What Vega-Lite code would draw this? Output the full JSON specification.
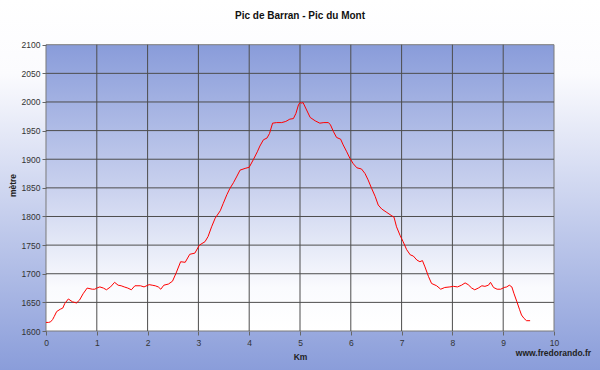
{
  "$schema": "https://vega.github.io/schema/vega-lite/v6.json",
  "width": 600,
  "height": 370,
  "autosize": {"type": "none"},
  "padding": 0,
  "background": "#ffffff",
  "title": {
    "text": "Pic de Barran - Pic du Mont",
    "font": "Liberation Sans",
    "fontSize": 10,
    "fontWeight": "bold",
    "color": "#111111",
    "anchor": "middle",
    "frame": "group",
    "offset": -21
  },
  "config": {
    "view": {"stroke": null},
    "axis": {
      "domain": false,
      "grid": false,
      "ticks": true,
      "tickColor": "#666666",
      "tickSize": 4,
      "labelFont": "Liberation Sans",
      "labelFontSize": 8.5,
      "labelColor": "#333333",
      "titleFont": "Liberation Sans",
      "titleFontSize": 8.5,
      "titleFontWeight": "bold",
      "titleColor": "#222222"
    }
  },
  "datasets": {
    "profile": [
      {"km": 0.00, "m": 1615}, {"km": 0.05, "m": 1615}, {"km": 0.09, "m": 1616}, {"km": 0.13, "m": 1620},
      {"km": 0.16, "m": 1625}, {"km": 0.21, "m": 1634}, {"km": 0.28, "m": 1638}, {"km": 0.33, "m": 1640},
      {"km": 0.37, "m": 1648}, {"km": 0.44, "m": 1656}, {"km": 0.52, "m": 1651}, {"km": 0.60, "m": 1649},
      {"km": 0.66, "m": 1654}, {"km": 0.73, "m": 1665}, {"km": 0.81, "m": 1675}, {"km": 0.91, "m": 1673},
      {"km": 0.96, "m": 1673}, {"km": 1.00, "m": 1675}, {"km": 1.06, "m": 1677}, {"km": 1.13, "m": 1675},
      {"km": 1.19, "m": 1672}, {"km": 1.27, "m": 1677}, {"km": 1.35, "m": 1685}, {"km": 1.42, "m": 1680},
      {"km": 1.48, "m": 1679}, {"km": 1.54, "m": 1677}, {"km": 1.61, "m": 1675}, {"km": 1.68, "m": 1672},
      {"km": 1.75, "m": 1679}, {"km": 1.86, "m": 1679}, {"km": 1.93, "m": 1677}, {"km": 2.03, "m": 1681},
      {"km": 2.09, "m": 1680}, {"km": 2.15, "m": 1679}, {"km": 2.21, "m": 1677}, {"km": 2.26, "m": 1673},
      {"km": 2.32, "m": 1680}, {"km": 2.41, "m": 1682}, {"km": 2.49, "m": 1687}, {"km": 2.56, "m": 1701},
      {"km": 2.65, "m": 1721}, {"km": 2.74, "m": 1720}, {"km": 2.83, "m": 1734}, {"km": 2.93, "m": 1736},
      {"km": 3.02, "m": 1750}, {"km": 3.13, "m": 1756}, {"km": 3.19, "m": 1765}, {"km": 3.26, "m": 1782},
      {"km": 3.33, "m": 1797}, {"km": 3.43, "m": 1810}, {"km": 3.49, "m": 1823}, {"km": 3.56, "m": 1838},
      {"km": 3.62, "m": 1849}, {"km": 3.69, "m": 1859}, {"km": 3.75, "m": 1869}, {"km": 3.82, "m": 1881},
      {"km": 3.92, "m": 1884}, {"km": 4.00, "m": 1886}, {"km": 4.08, "m": 1899}, {"km": 4.16, "m": 1913},
      {"km": 4.21, "m": 1923}, {"km": 4.28, "m": 1934}, {"km": 4.35, "m": 1937}, {"km": 4.40, "m": 1945},
      {"km": 4.46, "m": 1963}, {"km": 4.54, "m": 1964}, {"km": 4.64, "m": 1964}, {"km": 4.72, "m": 1966},
      {"km": 4.80, "m": 1970}, {"km": 4.87, "m": 1971}, {"km": 4.92, "m": 1980}, {"km": 4.97, "m": 1995},
      {"km": 5.00, "m": 1999}, {"km": 5.03, "m": 1998}, {"km": 5.06, "m": 1999}, {"km": 5.13, "m": 1986},
      {"km": 5.20, "m": 1973}, {"km": 5.30, "m": 1967}, {"km": 5.39, "m": 1963}, {"km": 5.47, "m": 1964},
      {"km": 5.56, "m": 1964}, {"km": 5.60, "m": 1960}, {"km": 5.66, "m": 1948}, {"km": 5.72, "m": 1938},
      {"km": 5.80, "m": 1935}, {"km": 5.85, "m": 1925}, {"km": 5.92, "m": 1913}, {"km": 5.98, "m": 1902},
      {"km": 6.05, "m": 1892}, {"km": 6.12, "m": 1885}, {"km": 6.21, "m": 1883}, {"km": 6.28, "m": 1875},
      {"km": 6.34, "m": 1864}, {"km": 6.41, "m": 1849}, {"km": 6.48, "m": 1835}, {"km": 6.54, "m": 1820},
      {"km": 6.61, "m": 1813}, {"km": 6.71, "m": 1807}, {"km": 6.81, "m": 1801}, {"km": 6.85, "m": 1799},
      {"km": 6.90, "m": 1782}, {"km": 6.97, "m": 1767}, {"km": 7.03, "m": 1756}, {"km": 7.10, "m": 1742},
      {"km": 7.17, "m": 1733}, {"km": 7.23, "m": 1731}, {"km": 7.30, "m": 1724}, {"km": 7.36, "m": 1721},
      {"km": 7.41, "m": 1723}, {"km": 7.46, "m": 1712}, {"km": 7.53, "m": 1695}, {"km": 7.59, "m": 1683},
      {"km": 7.69, "m": 1679}, {"km": 7.77, "m": 1673}, {"km": 7.85, "m": 1676}, {"km": 7.95, "m": 1677},
      {"km": 8.02, "m": 1678}, {"km": 8.10, "m": 1677}, {"km": 8.18, "m": 1680}, {"km": 8.25, "m": 1684},
      {"km": 8.31, "m": 1681}, {"km": 8.38, "m": 1675}, {"km": 8.44, "m": 1672}, {"km": 8.51, "m": 1675},
      {"km": 8.58, "m": 1679}, {"km": 8.64, "m": 1678}, {"km": 8.71, "m": 1680}, {"km": 8.75, "m": 1685},
      {"km": 8.81, "m": 1676}, {"km": 8.88, "m": 1673}, {"km": 8.95, "m": 1673}, {"km": 9.02, "m": 1676},
      {"km": 9.07, "m": 1677}, {"km": 9.12, "m": 1680}, {"km": 9.17, "m": 1677}, {"km": 9.21, "m": 1666},
      {"km": 9.27, "m": 1651}, {"km": 9.32, "m": 1638}, {"km": 9.36, "m": 1628}, {"km": 9.41, "m": 1622},
      {"km": 9.46, "m": 1618}, {"km": 9.53, "m": 1618}
    ],
    "vgrid": [
      {"km": 1}, {"km": 2}, {"km": 3}, {"km": 4}, {"km": 5}, {"km": 6}, {"km": 7}, {"km": 8}, {"km": 9}
    ],
    "hgrid": [
      {"m": 1650}, {"m": 1700}, {"m": 1750}, {"m": 1800}, {"m": 1850}, {"m": 1900}, {"m": 1950}, {"m": 2000}, {"m": 2050}
    ],
    "credit": [{"label": "www.fredorando.fr"}]
  },
  "encoding": {
    "x": {
      "type": "quantitative", "title": "Km",
      "scale": {"domain": [-0.9055, 10.9055], "nice": false, "zero": false},
      "axis": {"orient": "bottom", "offset": -39, "zindex": 5, "values": [0, 1, 2, 3, 4, 5, 6, 7, 8, 9, 10], "format": "d", "labelPadding": 3, "titlePadding": 6}
    },
    "y": {
      "type": "quantitative", "title": "mètre",
      "scale": {"domain": [1531.9, 2178.1], "nice": false, "zero": false},
      "axis": {"orient": "left", "offset": -46, "zindex": 5, "values": [1600, 1650, 1700, 1750, 1800, 1850, 1900, 1950, 2000, 2050, 2100], "format": "d", "labelPadding": 2, "titlePadding": 4}
    }
  },
  "layer": [
    {
      "data": {"values": [{}]},
      "mark": {
        "type": "rect",
        "color": {
          "gradient": "linear", "x1": 0, "y1": 0, "x2": 0, "y2": 1,
          "stops": [
            {"offset": 0, "color": "#ffffff"},
            {"offset": 0.2, "color": "#fbfbfe"},
            {"offset": 1, "color": "#8a9dda"}
          ]
        }
      },
      "encoding": {"x": null, "y": null}
    },
    {
      "data": {"values": [{}]},
      "mark": {
        "type": "rect",
        "stroke": "#7a7a7a",
        "strokeWidth": 1,
        "color": {
          "gradient": "linear", "x1": 0, "y1": 0, "x2": 0, "y2": 1,
          "stops": [
            {"offset": 0, "color": "#899cda"},
            {"offset": 0.5, "color": "#c9d1ee"},
            {"offset": 0.85, "color": "#fafbfe"},
            {"offset": 1, "color": "#ffffff"}
          ]
        }
      },
      "encoding": {
        "x": {"datum": 0},
        "x2": {"datum": 10},
        "y": {"datum": 1600},
        "y2": {"datum": 2100}
      }
    },
    {
      "data": {"name": "vgrid"},
      "mark": {"type": "rule", "color": "#4d4d4d", "strokeWidth": 1},
      "encoding": {
        "x": {"field": "km"},
        "y": {"datum": 1600},
        "y2": {"datum": 2100}
      }
    },
    {
      "data": {"name": "hgrid"},
      "mark": {"type": "rule", "color": "#4d4d4d", "strokeWidth": 1},
      "encoding": {
        "y": {"field": "m"},
        "x": {"datum": 0},
        "x2": {"datum": 10}
      }
    },
    {
      "data": {"name": "profile"},
      "mark": {"type": "line", "color": "#ff0000", "strokeWidth": 1, "interpolate": "linear"},
      "encoding": {
        "x": {"field": "km"},
        "y": {"field": "m"}
      }
    },
    {
      "data": {"name": "credit"},
      "mark": {"type": "text", "align": "right", "baseline": "alphabetic", "font": "Liberation Sans", "fontSize": 8.5, "fontWeight": "bold", "color": "#222222"},
      "encoding": {
        "text": {"field": "label"},
        "x": {"datum": 10.73},
        "y": {"datum": 1556}
      }
    }
  ]
}
